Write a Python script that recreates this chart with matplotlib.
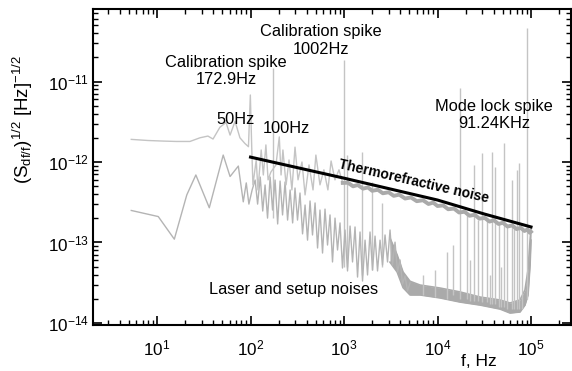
import matplotlib
matplotlib.use('Agg')
import matplotlib.pyplot as plt

plt.rcParams['font.family'] = ['Liberation Sans', 'DejaVu Sans']
plt.rcParams['mathtext.fontset'] = 'custom'
plt.rcParams['mathtext.rm'] = 'Liberation Sans'
plt.rcParams['mathtext.it'] = 'Liberation Sans:italic'
plt.rcParams['mathtext.bf'] = 'Liberation Sans:bold'

# ---------------- data ----------------
# upper spectrum, low-frequency part (thin line)
upper_low_f = [5.3, 8.0, 11.6, 16.0, 22.5, 28.8, 35.0, 39.7, 47.0, 54.7,
               60.4, 68.3, 77.0, 87.0, 95.0, 99.5, 103, 106, 115, 120,
               130, 137, 146, 154, 165, 187, 203, 212, 222, 240,
               258, 277, 299, 322, 355, 383, 422, 466, 500, 553,
               609, 672, 727, 800, 883, 970]
upper_low_S = [1.91e-12, 1.85e-12, 1.82e-12, 1.80e-12, 1.80e-12, 2.0e-12, 2.1e-12, 1.93e-12, 2.7e-12, 3.1e-12,
               2.16e-12, 3.2e-12, 2.0e-12, 1.7e-12, 1.55e-12, 6.8e-12, 1.5e-12, 5.2e-13, 1.06e-12, 4.5e-13,
               1.41e-12, 6.9e-13, 1.63e-12, 6.0e-13, 7.5e-13, 9.2e-13, 2.05e-12, 6.9e-13, 1.41e-12, 5.2e-13,
               1.06e-12, 4.5e-13, 1.53e-12, 6.0e-13, 1.0e-12, 3.9e-13, 9.2e-13, 4.5e-13, 1.22e-12, 5.2e-13,
               8.0e-13, 4.5e-13, 1.03e-12, 6.0e-13, 8.0e-13, 5.5e-13]

# upper spectrum, high-frequency band just under the thermorefractive line
upper_high_f = [970, 1100, 1250, 1400, 1600, 1800, 2000, 2300, 2600, 3000,
                3400, 3900, 4500, 5200, 6000, 7000, 8000, 9000, 10000, 11500,
                13000, 15000, 17000, 19500, 22000, 25000, 28000, 32000, 36000, 40000,
                45000, 50000, 56000, 63000, 70000, 78000, 85000, 92000, 97000, 100000]
upper_high_S = [5.5e-13, 5.53e-13, 4.99e-13, 5.18e-13, 4.67e-13, 4.84e-13, 4.39e-13, 4.52e-13, 4.09e-13, 4.21e-13,
                3.80e-13, 3.93e-13, 3.52e-13, 3.63e-13, 3.26e-13, 3.35e-13, 3.01e-13, 3.13e-13, 2.84e-13, 2.89e-13,
                2.59e-13, 2.64e-13, 2.36e-13, 2.41e-13, 2.15e-13, 2.21e-13, 1.98e-13, 2.02e-13, 1.82e-13, 1.89e-13,
                1.70e-13, 1.76e-13, 1.58e-13, 1.63e-13, 1.47e-13, 1.52e-13, 1.39e-13, 1.45e-13, 1.32e-13, 1.36e-13]

# lower spectrum (laser and setup noises)
lower_f = [5.3, 10.3, 15.3, 20.8, 26.0, 36.2, 51.0, 60.4, 74.0, 83.6, 90.0, 96.0, 104.0,
           112, 119, 127, 135, 143, 152, 162, 172, 183, 195,
           207, 220, 234, 249, 265, 282, 299, 318, 338, 360,
           383, 407, 433, 460, 490, 521, 553, 589, 626, 666,
           708, 753, 801, 852, 906, 963, 1024, 1090, 1160, 1233,
           1311, 1395, 1483, 1577, 1678, 1784, 1897, 2018, 2146, 2282,
           2427, 2581, 2745, 2919, 3105, 3302, 3512, 3735, 3972, 4224,
           4493, 4778, 5081]
lower_S = [2.5e-13, 2.1e-13, 1.1e-13, 3.9e-13, 6.9e-13, 2.7e-13, 1.22e-12, 6.6e-13, 8.9e-13, 3.2e-13, 5.5e-13, 3.0e-13, 4.5e-13,
           5.97e-13, 3.0e-13, 6.5e-13, 2.46e-13, 5.18e-13, 2.01e-13, 6.5e-13, 2.53e-13, 5.97e-13, 1.70e-13,
           5.8e-13, 2.2e-13, 5.65e-13, 1.9e-13, 4.49e-13, 1.75e-13, 4.75e-13, 1.9e-13, 4.12e-13, 1.28e-13,
           2.92e-13, 1.07e-13, 3.28e-13, 1.24e-13, 3.1e-13, 8.55e-14, 2.53e-13, 7.4e-14, 2.6e-13, 9.3e-14,
           2.2e-13, 5.73e-14, 2.01e-13, 8.07e-14, 1.75e-13, 4.82e-14, 1.43e-13, 4.43e-14, 1.60e-13, 5.73e-14,
           1.56e-13, 3.72e-14, 1.35e-13, 3.32e-14, 1.07e-13, 3.95e-14, 1.35e-13, 4.55e-14, 1.2e-13, 4.43e-14,
           1.07e-13, 5.25e-14, 1.24e-13, 5.73e-14, 1.43e-13, 5.25e-14, 1.01e-13, 4.3e-14, 6.07e-14, 3.05e-14,
           3.84e-14, 2.5e-14, 3.14e-14]

# dense noise floor of the lower spectrum (envelope)
band_f = [3100, 3700, 4280, 5080, 6500, 10600, 17400, 28500, 46600, 59600,
          76200, 86200, 92900, 97700, 100000]
band_hi = [1.14e-13, 7.0e-14, 4.3e-14, 3.3e-14, 2.96e-14, 2.72e-14, 2.43e-14, 2.1e-14, 1.93e-14, 1.77e-14,
           1.93e-14, 2.57e-14, 4.55e-14, 1.07e-13, 1.51e-13]
band_lo = [5.7e-14, 4.3e-14, 2.75e-14, 2.23e-14, 2.23e-14, 2.05e-14, 1.82e-14, 1.67e-14, 1.49e-14, 1.33e-14,
           1.37e-14, 1.67e-14, 2.23e-14, 5.25e-14, 1.07e-13]

# narrow spikes: frequency, top, base
spike_f = [172.9, 1002, 1080, 1560, 1980, 2540, 14700, 17400, 24500, 30000,
           38000, 41000, 51000, 62000, 70000, 74000, 90600,
           20500, 27000, 33500, 45000, 56000, 66000, 81000,
           7000, 9500, 12600, 22500, 36000, 48000]
spike_top = [1.47e-11, 1.85e-11, 1.22e-12, 1.33e-12, 5.6e-13, 3.1e-13, 9.3e-14, 8.3e-12, 9.2e-13, 1.3e-12,
             1.33e-12, 8.7e-13, 1.72e-12, 6.0e-13, 8.0e-13, 9.7e-13, 4.6e-11,
             2.3e-13, 1.9e-13, 2.0e-13, 1.7e-13, 1.6e-13, 1.5e-13, 1.45e-13,
             4.0e-14, 4.5e-14, 7.6e-14, 6.0e-14, 4.0e-14, 5.0e-14]
spike_base = [2.0e-13, 5e-14, 5e-14, 4e-14, 4.5e-14, 5e-14, 2.2e-14, 2.0e-14, 1.9e-14, 1.8e-14,
              1.7e-14, 1.7e-14, 1.6e-14, 1.5e-14, 1.5e-14, 1.5e-14, 2.0e-14,
              2.0e-14, 1.9e-14, 1.8e-14, 1.6e-14, 1.5e-14, 1.5e-14, 1.5e-14,
              2.2e-14, 2.1e-14, 2.0e-14, 1.9e-14, 1.7e-14, 1.6e-14]

# thermorefractive noise (theory line)
thermo_f = [100, 1000, 10000, 31600, 100000]
thermo_S = [1.15e-12, 6.3e-13, 3.37e-13, 2.26e-13, 1.56e-13]

x_ticks = [1e1, 1e2, 1e3, 1e4, 1e5]
y_ticks = [1e-14, 1e-13, 1e-12, 1e-11]

# ---------------- figure ----------------
W, H = 572, 371
fig = plt.figure(figsize=(W / 100, H / 100), dpi=100)
L, R, T, B = 93.3, 570.5, 9, 325
ax = fig.add_axes([L / W, 1 - B / H, (R - L) / W, (B - T) / H])
ax.set_xscale('log')
ax.set_yscale('log')
ax.set_xlim(2.08, 2.645e5)
ax.set_ylim(9.44e-15, 7.96e-11)

gray_light = '#c4c4c4'
gray = '#b4b4b4'
gray_dark = '#aaaaaa'

ax.fill_between(band_f, band_lo, band_hi, color=gray_dark, lw=0, zorder=1)
ax.plot(band_f, band_hi, color=gray_dark, lw=1.2, zorder=1)
ax.plot(band_f, band_lo, color=gray_dark, lw=1.2, zorder=1)
ax.vlines(spike_f, spike_base, spike_top, color=gray_light, lw=1.0, zorder=1)
ax.plot(lower_f, lower_S, color=gray, lw=1.0, zorder=2)
ax.plot(upper_low_f, upper_low_S, color=gray_light, lw=1.0, zorder=2)
ax.plot(upper_high_f, upper_high_S, color=gray_dark, lw=2.8, zorder=2)
ax.plot(thermo_f, thermo_S, color='black', lw=2.2, zorder=3)

# axes styling
for s in ax.spines.values():
    s.set_linewidth(1.5)
ax.set_xticks(x_ticks)
ax.set_yticks(y_ticks)
ax.tick_params(which='both', direction='in', top=True, right=True)
ax.tick_params(which='major', length=6.5, width=1.2, labelsize=12.3)
ax.tick_params(which='minor', length=3.8, width=1.0)
ax.tick_params(axis='x', which='major', pad=10)
ax.tick_params(axis='y', which='major', pad=3)

ax.set_ylabel(r'$\mathrm{(S_{df/f})^{1/2}\ [Hz]^{-1/2}}$', fontsize=13.5)
ax.yaxis.set_label_coords(-0.122, 0.649)
ax.set_xlabel('f, Hz', fontsize=12.5, va='top')
ax.xaxis.set_label_coords(0.809, -0.093)

fs = 11.8
ax.text(54.7, 1.35e-11, 'Calibration spike\n172.9Hz', ha='center', va='center',
        fontsize=fs, linespacing=1.2, zorder=5)
ax.text(567, 3.23e-11, 'Calibration spike\n1002Hz', ha='center', va='center',
        fontsize=fs, linespacing=1.2, zorder=5)
ax.text(69.2, 3.33e-12, '50Hz', ha='center', va='center', fontsize=fs, zorder=5)
ax.text(240, 2.64e-12, '100Hz', ha='center', va='center', fontsize=fs, zorder=5)
ax.text(40200, 3.84e-12, 'Mode lock spike\n91.24KHz', ha='center', va='center',
        fontsize=fs, linespacing=1.2, zorder=5)
ax.text(288, 2.64e-14, 'Laser and setup noises', ha='center', va='center',
        fontsize=fs, zorder=5)
ax.text(5610, 5.8e-13, 'Thermorefractive noise', ha='center', va='center',
        rotation=-13, rotation_mode='anchor', fontsize=10, fontweight='bold', zorder=5)

fig.savefig('out.png', dpi=100)
